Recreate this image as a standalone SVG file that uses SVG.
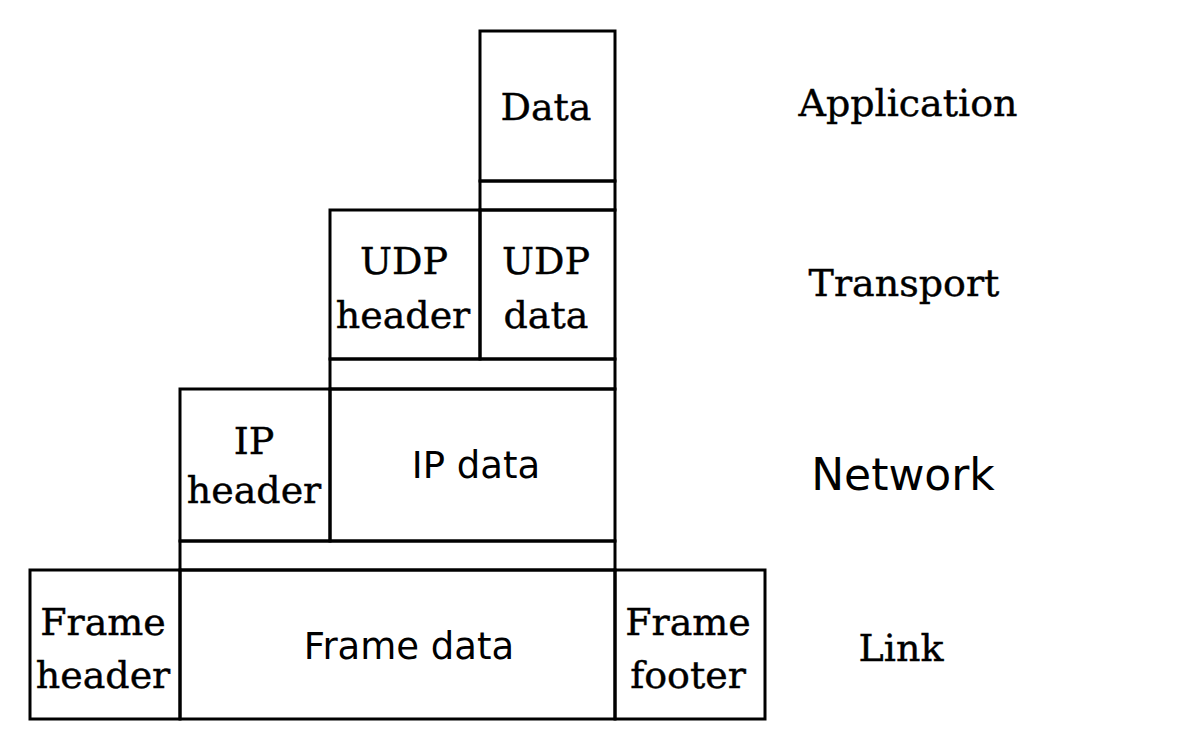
<svg xmlns="http://www.w3.org/2000/svg" width="1200" height="750" viewBox="0 0 1200 750">
<style>
rect{fill:none;stroke:#000;stroke-width:3}
.s{font-family:"DejaVu Serif","Liberation Serif",serif;font-size:38px;fill:#000;stroke:#000;stroke-width:0.4;text-anchor:middle}
.a{font-family:"DejaVu Sans","Liberation Sans",sans-serif;font-size:37px;fill:#000;text-anchor:middle}
</style>
<rect x="0" y="0" width="1200" height="750" style="fill:#fff;stroke:none"/>
<g id="app-data"><rect x="480" y="31" width="135" height="150"/><text class="s" x="546" y="120">Data</text></g>
<g id="app-gap"><rect x="480" y="181" width="135" height="29"/></g>
<g id="udp-header"><rect x="330" y="210" width="150" height="149"/><text class="s" x="404" y="274">UDP</text><text class="s" x="403" y="328">header</text></g>
<g id="udp-data"><rect x="480" y="210" width="135" height="149"/><text class="s" x="546" y="274">UDP</text><text class="s" x="546" y="328">data</text></g>
<g id="udp-gap"><rect x="330" y="359" width="285" height="30"/></g>
<g id="ip-header"><rect x="180" y="389" width="150" height="152"/><text class="s" x="254" y="454">IP</text><text class="s" x="254" y="503">header</text></g>
<g id="ip-data"><rect x="330" y="389" width="285" height="152"/><text class="a" x="476" y="478">IP data</text></g>
<g id="ip-gap"><rect x="180" y="541" width="435" height="29"/></g>
<g id="frame-header"><rect x="30" y="570" width="150" height="149"/><text class="s" x="103" y="635">Frame</text><text class="s" x="103" y="688">header</text></g>
<g id="frame-data"><rect x="180" y="570" width="435" height="149"/><text class="a" x="409" y="659">Frame data</text></g>
<g id="frame-footer"><rect x="615" y="570" width="150" height="149"/><text class="s" x="688" y="635">Frame</text><text class="s" x="688" y="688">footer</text></g>
<g id="labels">
<text class="s" x="908" y="116">Application</text>
<text class="s" x="904" y="296">Transport</text>
<text class="a" x="903" y="490" style="font-size:44px">Network</text>
<text class="s" x="901" y="661">Link</text>
</g>
<g id="connectors"></g>
</svg>
